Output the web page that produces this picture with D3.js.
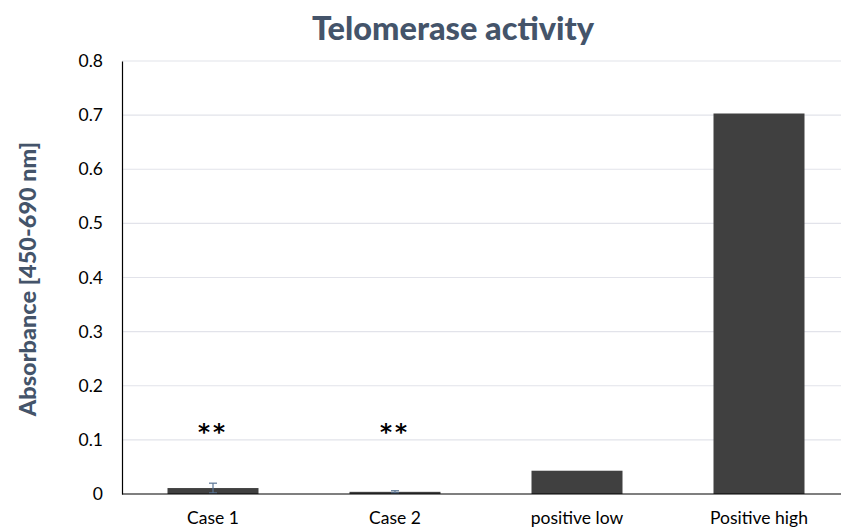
<!DOCTYPE html>
<html>
<head>
<meta charset="utf-8">
<script src="https://cdn.jsdelivr.net/npm/d3@7"></script>
<style>
  html, body { margin: 0; padding: 0; background: #fff; }
  svg { display: block; }
</style>
</head>
<body>
<svg id="chart" width="841" height="530"></svg>
<script>
// Telomerase activity readings (absorbance at 450-690 nm)
const categories = ["Case 1", "Case 2", "positive low", "Positive high"];
const values = [0.011, 0.004, 0.043, 0.703];
const errors = [0.009, 0.002, null, null];
const significance = ["**", "**", "", ""];
const yTicks = [0, 0.1, 0.2, 0.3, 0.4, 0.5, 0.6, 0.7, 0.8];

const svg = d3.select("#chart");
const margin = { left: 122, top: 61, bottom: 36 };
const H = 530;
const bandW = 182;

const x = d3.scaleBand()
  .domain(categories)
  .range([margin.left, margin.left + bandW * categories.length])
  .paddingInner(0.5)
  .paddingOuter(0.25);

const y = d3.scaleLinear().domain([0, 0.8]).range([H - margin.bottom, margin.top]);

const font = "Lato, 'Open Sans', sans-serif";

// Horizontal gridlines
svg.append("g")
  .selectAll("line")
  .data(yTicks.slice(1))
  .join("line")
  .attr("x1", margin.left).attr("x2", 841)
  .attr("y1", d => y(d)).attr("y2", d => y(d))
  .attr("stroke", "#e2e3ea").attr("stroke-width", 1.2);

// Y axis
const yAxis = svg.append("g")
  .attr("transform", `translate(${margin.left},0)`)
  .call(d3.axisLeft(y).tickValues(yTicks).tickSize(0).tickPadding(19)
    .tickFormat(d => d === 0 ? "0" : d3.format(".1f")(d)));
yAxis.select(".domain").attr("stroke", "#000").attr("stroke-width", 1.2);
yAxis.selectAll("text")
  .attr("font-family", font).attr("font-size", 17.5).attr("fill", "#000");

// Bars
svg.append("g")
  .selectAll("rect")
  .data(categories)
  .join("rect")
  .attr("x", d => x(d))
  .attr("width", x.bandwidth())
  .attr("y", (d, i) => y(values[i]))
  .attr("height", (d, i) => y(0) - y(values[i]))
  .attr("fill", "#404040");

// Error bars
const eb = svg.append("g").attr("stroke", "#5a7594").attr("stroke-width", 1.2);
categories.forEach((c, i) => {
  if (errors[i] == null) return;
  const cx = x(c) + x.bandwidth() / 2;
  const lo = y(Math.max(0, values[i] - errors[i]));
  const hi = y(values[i] + errors[i]);
  eb.append("line").attr("x1", cx).attr("x2", cx).attr("y1", lo).attr("y2", hi);
  eb.append("line").attr("x1", cx - 4).attr("x2", cx + 4).attr("y1", hi).attr("y2", hi);
  eb.append("line").attr("x1", cx - 4).attr("x2", cx + 4).attr("y1", lo).attr("y2", lo);
});

// X axis baseline and labels
const xAxis = svg.append("g")
  .attr("transform", `translate(0,${y(0)})`)
  .call(d3.axisBottom(x).tickSize(0).tickPadding(18));
xAxis.select(".domain").remove();
svg.append("line")
  .attr("x1", margin.left).attr("x2", 841)
  .attr("y1", y(0)).attr("y2", y(0))
  .attr("stroke", "#000").attr("stroke-width", 1.2);
xAxis.selectAll("text")
  .attr("font-family", font).attr("font-size", 17.5).attr("fill", "#000");

// Significance markers
svg.append("g")
  .selectAll("text")
  .data(categories)
  .join("text")
  .attr("x", d => x(d) + x.bandwidth() / 2)
  .attr("y", 440)
  .attr("text-anchor", "middle")
  .attr("font-family", "'DejaVu Sans', sans-serif")
  .attr("font-weight", "bold")
  .attr("font-size", 23)
  .attr("letter-spacing", 3)
  .attr("fill", "#000")
  .text((d, i) => significance[i]);

// Title
svg.append("text")
  .attr("x", 453).attr("y", 40)
  .attr("text-anchor", "middle")
  .attr("font-family", font).attr("font-weight", 900).attr("font-size", 32.5)
  .attr("fill", "#44546a")
  .text("Telomerase activity");

// Y axis title
svg.append("text")
  .attr("transform", `translate(36,279) rotate(-90)`)
  .attr("text-anchor", "middle")
  .attr("font-family", font).attr("font-weight", 900).attr("font-size", 23.5)
  .attr("fill", "#44546a")
  .text("Absorbance [450-690 nm]");
</script>
</body>
</html>
